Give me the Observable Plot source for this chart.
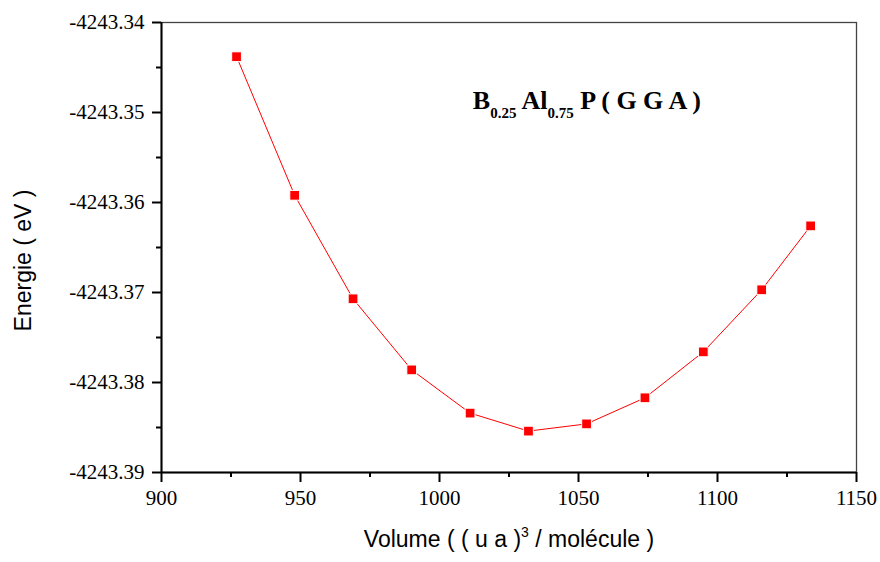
<!DOCTYPE html>
<html>
<head>
<meta charset="utf-8">
<script src="https://cdn.jsdelivr.net/npm/d3@7"></script>
<script src="https://cdn.jsdelivr.net/npm/@observablehq/plot@0.6"></script>
<style>
  html, body { margin: 0; padding: 0; background: #fff; }
  svg { display: block; }
</style>
</head>
<body>
<div id="chart"></div>
<script>
const volumes  = [927.0, 947.9, 968.9, 990.0, 1011.0, 1032.0, 1052.9, 1073.9, 1094.9, 1115.9, 1133.5];
const energies = [-4243.3438, -4243.3592, -4243.3707, -4243.3786, -4243.3834, -4243.3854, -4243.3846, -4243.3817, -4243.3766, -4243.3697, -4243.3626];
const xTicks = [900, 950, 1000, 1050, 1100, 1150];
const xMinorTicks = [925, 975, 1025, 1075, 1125];
const yTicks = [-4243.39, -4243.38, -4243.37, -4243.36, -4243.35, -4243.34];
const yMinorTicks = [-4243.385, -4243.375, -4243.365, -4243.355, -4243.345];
const xTickLabels = ["900", "950", "1000", "1050", "1100", "1150"];
const yTickLabels = ["-4243.39", "-4243.38", "-4243.37", "-4243.36", "-4243.35", "-4243.34"];
const xLabelParts = ["Volume ( ( u a )", "3", " / molécule )"];
const yLabel = "Energie ( eV )";
const titleParts = [["B", "0.25"], [" Al", "0.75"], [" P ( G G A )", ""]];
const xLabel = xLabelParts.join("");
const titleString = titleParts.map(p => p[0] + p[1]).join("");
const titleAt = {x: 1012.0, y: -4243.34864};

const data = volumes.map((v, i) => ({v, e: energies[i]}));
const serif = "'Liberation Serif', 'Times New Roman', serif";
const sans = "'Liberation Sans', Arial, sans-serif";
const none = () => "";

const plot = Plot.plot({
  width: 880,
  height: 562,
  marginLeft: 161,
  marginRight: 24,
  marginTop: 22,
  marginBottom: 90,
  style: {background: "#fff", color: "#000"},
  x: {domain: [900, 1150]},
  y: {domain: [-4243.39, -4243.34]},
  marks: [
    Plot.frame({stroke: "#444", strokeWidth: 1.3}),
    Plot.axisY(yTicks, {tickSize: 9, tickFormat: none, strokeWidth: 2, label: null}),
    Plot.axisY(yMinorTicks, {tickSize: 5, tickFormat: none, strokeWidth: 2, label: null}),
    Plot.axisX(xTicks, {tickSize: 10, tickFormat: none, strokeWidth: 2, label: null}),
    Plot.axisX(xMinorTicks, {tickSize: 5, tickFormat: none, strokeWidth: 2, label: null}),
    Plot.text(yTicks, {y: d => d, text: (d, i) => yTickLabels[i], frameAnchor: "left", textAnchor: "end", dx: -17, fontSize: 21, fontFamily: serif, fill: "#000"}),
    Plot.text(xTicks, {x: d => d, text: (d, i) => xTickLabels[i], frameAnchor: "bottom", lineAnchor: "top", dy: 18, fontSize: 21, fontFamily: serif, fill: "#000"}),
    Plot.ruleX([900], {stroke: "#000", strokeWidth: 2}),
    Plot.ruleY([-4243.39], {stroke: "#000", strokeWidth: 2}),
    Plot.line(data, {x: "v", y: "e", stroke: "#ff0000", strokeWidth: 1}),
    Plot.dot(data, {x: "v", y: "e", symbol: "square", r: 5.5, fill: "#ff0000", stroke: "#fff", strokeWidth: 1}),
    Plot.text([xLabel], {frameAnchor: "bottom", dy: 74, text: d => d, fontSize: 23, fontFamily: sans, fill: "#000"}),
    Plot.text([yLabel], {frameAnchor: "left", textAnchor: "middle", dx: -138, dy: 13, rotate: -90, text: d => d, fontSize: 23, fontFamily: sans, fill: "#000"}),
    Plot.text([titleAt], {x: "x", y: "y", text: () => titleString, textAnchor: "start", fontSize: 26, fontWeight: "bold", fontFamily: serif, fill: "#000"})
  ]
});

const ns = "http://www.w3.org/2000/svg";
function span(text, attrs) {
  const s = document.createElementNS(ns, "tspan");
  s.textContent = text;
  for (const k in attrs) s.setAttribute(k, attrs[k]);
  return s;
}
for (const t of plot.querySelectorAll("text")) {
  const s = t.textContent;
  if (s === titleString) {
    while (t.firstChild) t.removeChild(t.firstChild);
    let shifted = false;
    for (const [main, sub] of titleParts) {
      t.appendChild(span(main, shifted ? {dy: -9} : {}));
      shifted = false;
      if (sub) {
        t.appendChild(span(sub, {"font-size": 15, dy: 9}));
        shifted = true;
      }
    }
  } else if (s === xLabel) {
    while (t.firstChild) t.removeChild(t.firstChild);
    t.appendChild(span(xLabelParts[0], {}));
    t.appendChild(span(xLabelParts[1], {"font-size": 14, dy: -10}));
    t.appendChild(span(xLabelParts[2], {dy: 10}));
  }
}

document.getElementById("chart").appendChild(plot);
</script>
</body>
</html>
